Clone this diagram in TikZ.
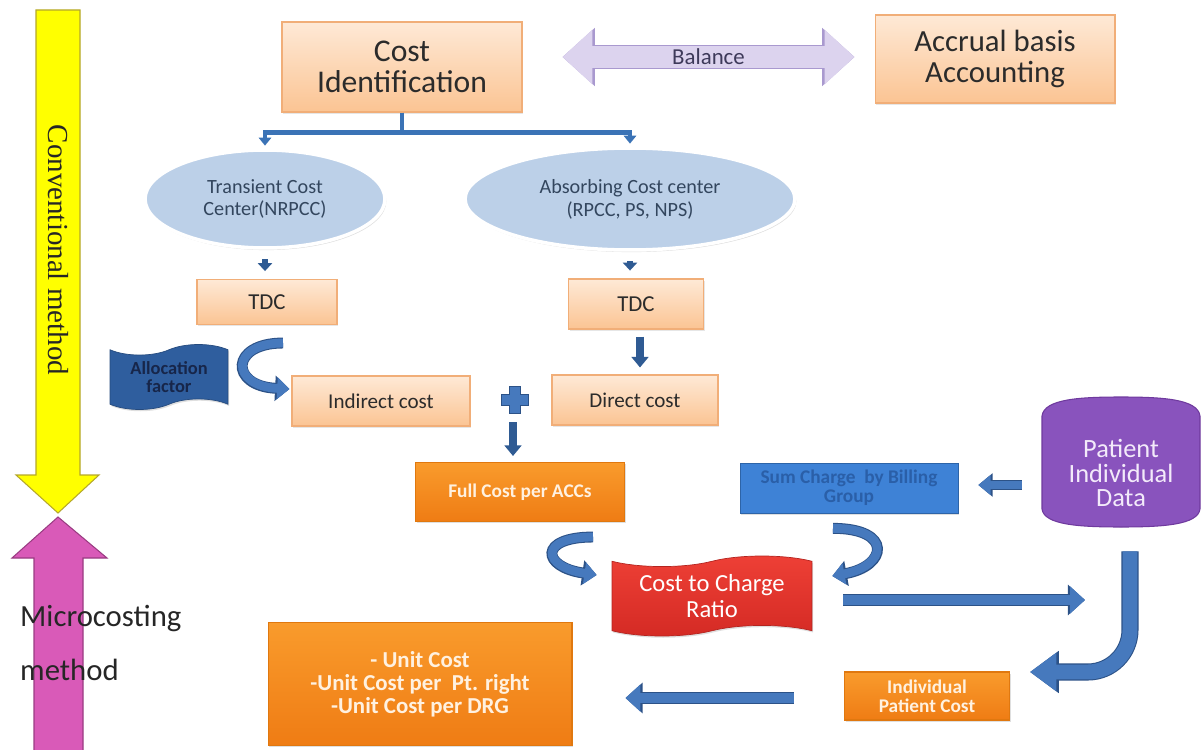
\documentclass[tikz,border=0pt]{standalone}
\usepackage{fontspec}
\setmainfont{Carlito}
\newfontfamily\serifmethod{Liberation Serif}
\usetikzlibrary{positioning}
\usetikzlibrary{calc}
\usetikzlibrary{arrows.meta}
\usetikzlibrary{shapes.geometric}
\usetikzlibrary{shapes.symbols}
\usetikzlibrary{shadows}

\definecolor{peachtop}{HTML}{FEE9D6}
\definecolor{peachbot}{HTML}{FBC493}
\definecolor{peachline}{HTML}{F1AE78}
\definecolor{inkgray}{HTML}{2B2B2B}
\definecolor{ellfill}{HTML}{BCD0E8}
\definecolor{ellink}{HTML}{33465E}
\definecolor{linkblue}{HTML}{3B73B6}
\definecolor{deepblue}{HTML}{2F5B93}
\definecolor{arrowfill}{HTML}{4679BD}
\definecolor{arrowedge}{HTML}{2C5287}
\definecolor{allocfill}{HTML}{2F5E9E}
\definecolor{allocink}{HTML}{17264A}
\definecolor{orangetop}{HTML}{F99B2C}
\definecolor{orangebot}{HTML}{EF7C14}
\definecolor{orangeline}{HTML}{E0780F}
\definecolor{orangeink}{HTML}{FFF1E0}
\definecolor{billfill}{HTML}{3E82D6}
\definecolor{billink}{HTML}{2A5FA8}
\definecolor{billline}{HTML}{2D64A8}
\definecolor{ptfill}{HTML}{8953BD}
\definecolor{ptline}{HTML}{6F3A9E}
\definecolor{ptink}{HTML}{F3EAFA}
\definecolor{ratiotop}{HTML}{EE4036}
\definecolor{ratiobot}{HTML}{D42A24}
\definecolor{balfill}{HTML}{DCD3EE}
\definecolor{balline}{HTML}{A999CF}
\definecolor{balink}{HTML}{3E3A5A}
\definecolor{convyellow}{HTML}{FFFF00}
\definecolor{convline}{HTML}{B5A72A}
\definecolor{micropink}{HTML}{D95AB8}
\definecolor{microline}{HTML}{9A3C82}

\begin{document}
\begin{tikzpicture}[
        x=0.02cm, y=-0.02cm,
        peachbox/.style={rectangle, draw=peachline, line width=0.6pt, top color=peachtop, bottom color=peachbot,
            text=inkgray, align=center, inner sep=1pt, drop shadow={opacity=0.2, shadow xshift=0.6pt, shadow yshift=-1pt}},
        orangebox/.style={rectangle, draw=orangeline, line width=0.6pt, top color=orangetop, bottom color=orangebot,
            text=orangeink, align=center, inner sep=1pt, drop shadow={opacity=0.25, shadow xshift=0.6pt, shadow yshift=-1pt}},
        costcenter/.style={ellipse, draw=white, line width=2pt, fill=ellfill, text=ellink, align=center, inner sep=0pt,
            font=\fontsize{11.5}{13}\selectfont, drop shadow={opacity=0.25, shadow xshift=0.8pt, shadow yshift=-1.2pt}},
        wave/.style={tape, tape bend top=in and out, tape bend bottom=in and out, tape bend height=6pt,
            align=center, inner sep=1pt, drop shadow={opacity=0.25, shadow xshift=0.6pt, shadow yshift=-1pt}},
        branch/.style={draw=linkblue, line width=2.3pt, -{Triangle[width=7pt,length=4.5pt]}},
        stub/.style={draw=deepblue, line width=3pt, -{Triangle[width=8pt,length=4.5pt]}},
        downarrow/.style={draw=deepblue, line width=4pt, -{Triangle[width=9.5pt,length=6pt]}},
        blockarrow/.style={draw=arrowfill, line width=6pt, -{Triangle[width=15pt,length=8.5pt]},
            preaction={draw=arrowedge, line width=7.2pt, -{Triangle[width=17pt,length=9.8pt]}}},
        smallblock/.style={draw=arrowfill, line width=5pt, -{Triangle[width=11pt,length=7pt]},
            preaction={draw=arrowedge, line width=6.2pt, -{Triangle[width=13pt,length=8.2pt]}}},
        turnarrow/.style={draw=arrowfill, line width=5pt, -{Triangle[width=12pt,length=7pt]},
            preaction={draw=arrowedge, line width=6.2pt, -{Triangle[width=14pt,length=8.2pt]}}},
        bigarrow/.style={draw=arrowfill, line width=8.5pt, rounded corners=24pt, -{Triangle[width=21pt,length=15pt]},
            preaction={draw=arrowedge, line width=9.7pt, -{Triangle[width=23pt,length=16.4pt]}}},
        dblarrow/.style={draw=balfill, line width=13pt, {Triangle[width=30pt,length=17pt]}-{Triangle[width=30pt,length=17pt]},
            preaction={draw=balline, line width=14.2pt, {Triangle[width=32pt,length=18.4pt]}-{Triangle[width=32pt,length=18.4pt]}}}
    ]
        \useasboundingbox (0,0) rectangle (1201,750);

        % method arrows on the left
        \filldraw[fill=convyellow, draw=convline, line width=0.6pt]
            (36,10) -- (80,10) -- (80,475) -- (99,475) -- (58,513) -- (16,475) -- (36,475) -- cycle;
        \node[rotate=-90, font=\serifmethod\fontsize{16.5}{18}\selectfont, text=black!85] (conv) at (58,250) {Conventional method};
        \filldraw[fill=micropink, draw=microline, line width=0.6pt]
            (58,517) -- (107,558) -- (83,558) -- (83,752) -- (34,752) -- (34,558) -- (12,558) -- cycle;
        \node[anchor=west, align=left, font=\fontsize{17.5}{31}\selectfont, text=black!85] (micro) at (14,643) {Microcosting\\method};

        % top row
        \node[peachbox, minimum width=4.8cm, minimum height=1.8cm, font=\fontsize{18}{18}\selectfont] (costid) at (402,67) {Cost\\Identification};
        \node[peachbox, minimum width=4.8cm, minimum height=1.76cm, font=\fontsize{17.5}{17.5}\selectfont] (accrual) at (995,59) {Accrual basis\\Accounting};
        \draw[dblarrow] ($(costid.east)+(40,-10)$) -- node[font=\fontsize{13}{15}\selectfont, text=balink] (balance) {Balance} ($(accrual.west)+(-20,-2)$);

        % cost centres
        \node[costcenter, minimum width=4.8cm, minimum height=1.96cm] (transient) at (265,199) {Transient Cost\\Center(NRPCC)};
        \node[costcenter, minimum width=6.6cm, minimum height=2.04cm] (absorbing) at (630,199) {Absorbing Cost center\\(RPCC, PS, NPS)};
        \draw[branch, shorten >=1.5pt] (costid.south) -- ++(0,20) -| (transient.north);
        \draw[branch, shorten >=1.5pt] (costid.south) -- ++(0,20) -| (absorbing.north);

        % TDC and costs
        \node[peachbox, minimum width=2.8cm, minimum height=0.9cm, font=\fontsize{13}{15}\selectfont] (tdcL) at (267,302) {TDC};
        \node[peachbox, minimum width=2.7cm, minimum height=1cm, font=\fontsize{13}{15}\selectfont] (tdcR) at (636,304) {TDC};
        \draw[stub, shorten <=5.5pt, shorten >=4.5pt] (transient.south) -- (transient.south |- tdcL.north);
        \draw[stub, shorten <=5.5pt, shorten >=4.5pt] (absorbing.south) -- (absorbing.south |- tdcR.north);

        \node[peachbox, minimum width=3.56cm, minimum height=1cm, font=\fontsize{12}{14}\selectfont] (indirect) at (381,401) {Indirect cost};
        \node[peachbox, minimum width=3.32cm, minimum height=1cm, font=\fontsize{12}{14}\selectfont] (direct) at (635,400) {Direct cost};
        \draw[downarrow] ($(tdcR.south)+(4,7)$) -- ($(tdcR.south |- direct.north)+(4,-7)$);

        % allocation factor
        \node[wave, fill=allocfill, draw=allocfill!80!black, minimum width=2.36cm, minimum height=1.3cm, text=allocink,
            font=\bfseries\fontsize{10.5}{10}\selectfont] (alloc) at (169,377) {Allocation\\factor};
        \draw[turnarrow] ($(tdcL.south)+(16,18)$) .. controls +(-53,0) and +(-60,-3) .. ($(indirect.west)+(-2,-12)$);

        % plus sign
        \coordinate (plus) at (515,400);
        \filldraw[draw=arrowedge, fill=arrowfill, line width=0.6pt] (plus) ++(-13.5,-5.5) -- ++(8,0) -- ++(0,-8) -- ++(11,0)
            -- ++(0,8) -- ++(8,0) -- ++(0,11) -- ++(-8,0) -- ++(0,8) -- ++(-11,0) -- ++(0,-8) -- ++(-8,0) -- cycle;

        % bottom half
        \node[orangebox, minimum width=4.18cm, minimum height=1.18cm, font=\bfseries\fontsize{11}{13}\selectfont] (fullcost) at (520,492) {Full Cost per ACCs};
        \draw[downarrow] ($(plus)+(-2,22)$) -- ($(plus |- fullcost.north)+(-2,-6)$);
        \node[rectangle, draw=billline, fill=billfill, minimum width=4.36cm, minimum height=1cm, text=billink, align=center, inner sep=1pt,
            font=\bfseries\fontsize{11}{11}\selectfont, drop shadow={opacity=0.25, shadow xshift=0.6pt, shadow yshift=-1pt}] (sumcharge) at (849,488) {Sum Charge~ by Billing\\Group};

        \filldraw[fill=ptfill, draw=ptline, line width=0.6pt] (1042,416) .. controls (1044,399) and (1080,397) .. (1121,397)
            .. controls (1162,397) and (1198,399) .. (1200,416) -- (1200,509) .. controls (1198,525) and (1162,527) .. (1121,527)
            .. controls (1080,527) and (1044,525) .. (1042,509) -- cycle;
        \node[minimum width=3.16cm, minimum height=2.16cm, align=center, text=ptink, font=\fontsize{15}{14}\selectfont] (ptdata) at (1121,473) {Patient\\Individual\\Data};
        \draw[smallblock] ($(ptdata.west)+(-20,12)$) -- ($(sumcharge.east)+(20,-3)$);

        \node[wave, top color=ratiotop, bottom color=ratiobot, draw=ratiobot!85!black, minimum width=4cm, minimum height=1.6cm, text=white,
            font=\fontsize{14}{14.5}\selectfont] (ratio) at (712,596) {Cost to Charge\\Ratio};
        \draw[turnarrow] ($(fullcost.south)+(73,15)$) .. controls +(-55,0) and +(-55,-8) .. ($(ratio.west)+(-15,-21)$);
        \draw[turnarrow] ($(sumcharge.south)+(-16,15)$) .. controls +(60,0) and +(55,-10) .. ($(ratio.east)+(20,-20)$);

        \coordinate (ratioend) at ($(ratio.east -| ptdata.south)+(-36,4)$);
        \draw[blockarrow] ($(ratio.east)+(31,4)$) -- (ratioend);

        \node[orangebox, minimum width=3.3cm, minimum height=0.96cm, font=\bfseries\fontsize{11}{11}\selectfont] (indiv) at (927,696) {Individual\\Patient Cost};
        \draw[bigarrow] ($(ptdata.south)+(9,24)$) |- ($(indiv.east)+(20,-24)$);

        \node[orangebox, minimum width=6.08cm, minimum height=2.46cm, font=\bfseries\fontsize{13}{13}\selectfont] (unitcost) at (420,684) {- Unit Cost\\-Unit Cost per~ Pt. right\\-Unit Cost per DRG};
        \draw[blockarrow] ($(indiv.west)+(-50,2)$) -- ($(unitcost.east)+(53,14)$);
    \end{tikzpicture}
\end{document}
